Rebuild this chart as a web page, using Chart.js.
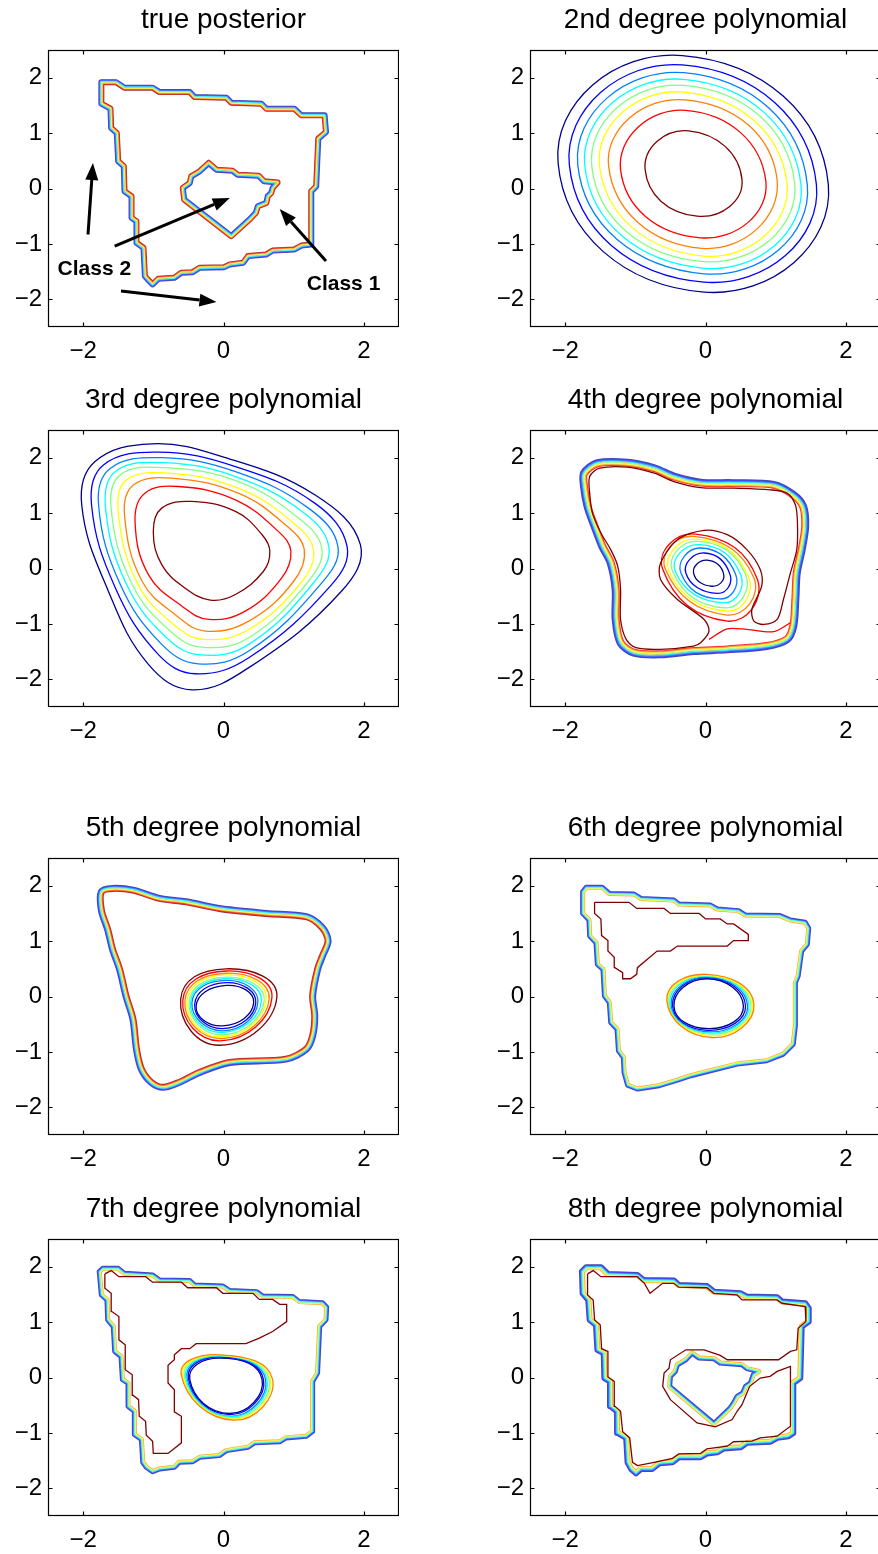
<!DOCTYPE html>
<html>
<head>
<meta charset="utf-8">
<script src="https://cdn.jsdelivr.net/npm/chart.js@4.4.0/dist/chart.umd.min.js"></script>
<style>
html, body { margin: 0; padding: 0; background: #fff; width: 878px; height: 1554px; overflow: hidden; }
canvas { position: absolute; }
</style>
</head>
<body>
<canvas id="p1" width="399" height="367" style="left:0px;top:0px"></canvas>
<canvas id="p2" width="399" height="367" style="left:482px;top:0px"></canvas>
<canvas id="p3" width="399" height="367" style="left:0px;top:380px"></canvas>
<canvas id="p4" width="399" height="367" style="left:482px;top:380px"></canvas>
<canvas id="p5" width="399" height="367" style="left:0px;top:808px"></canvas>
<canvas id="p6" width="399" height="367" style="left:482px;top:808px"></canvas>
<canvas id="p7" width="399" height="367" style="left:0px;top:1189px"></canvas>
<canvas id="p8" width="399" height="367" style="left:482px;top:1189px"></canvas>
<script>
// ---- data (x, y in axis units) ----
var titles = ['true posterior', '2nd degree polynomial', '3rd degree polynomial', '4th degree polynomial',
              '5th degree polynomial', '6th degree polynomial', '7th degree polynomial', '8th degree polynomial'];
var xTicks = [-2, 0, 2];
var yTicks = [-2, -1, 0, 1, 2];
// contour levels, low -> high
var jet = ['#00008f', '#0000ff', '#0080ff', '#00ffff', '#80ff80', '#ffff00', '#ff8000', '#ff0000', '#800000'];
// same levels as they look when packed into a thin bundle
var bandJet = ['#4646b0', '#4848ff', '#40a0ff', '#40ffff', '#a0ffa0', '#ffff40', '#ffa040', '#ff3030', '#a03030'];

// true posterior
var truthOuter = [[-1.74,1.92],[-1.53,1.92],[-1.41,1.82],[-1.01,1.82],[-0.91,1.74],[-0.48,1.74],[-0.41,1.65],[0.04,1.64],[0.11,1.55],[0.54,1.53],[0.61,1.44],[1.01,1.44],[1.11,1.32],[1.44,1.32],[1.46,1.02],[1.35,0.90],[1.32,0.04],[1.25,-0.05],[1.25,-1.01],[1.11,-1.03],[1.01,-1.10],[0.70,-1.12],[0.61,-1.19],[0.35,-1.22],[0.28,-1.34],[0.09,-1.37],[0.01,-1.42],[-0.34,-1.43],[-0.44,-1.51],[-0.60,-1.52],[-0.70,-1.61],[-0.93,-1.63],[-1.01,-1.73],[-1.08,-1.64],[-1.12,-1.58],[-1.14,-1.07],[-1.24,-0.98],[-1.24,-0.59],[-1.31,-0.53],[-1.31,-0.14],[-1.41,-0.05],[-1.42,0.40],[-1.50,0.49],[-1.52,1.00],[-1.60,1.09],[-1.61,1.44],[-1.74,1.53]];
var truthInner = [[-0.21,0.46],[-0.10,0.34],[0.13,0.32],[0.20,0.25],[0.50,0.23],[0.58,0.13],[0.77,0.11],[0.70,0.01],[0.68,-0.08],[0.63,-0.14],[0.61,-0.26],[0.49,-0.32],[0.46,-0.44],[0.37,-0.56],[0.11,-0.86],[-0.56,-0.20],[-0.58,0.01],[-0.48,0.10],[-0.46,0.22],[-0.34,0.31]];
// arrows: tail x, tail y, head x, head y
var truthArrows = [[-1.93,-0.83,-1.86,0.46],[-1.55,-1.04,0.09,-0.17],[-1.46,-1.85,-0.10,-2.05],[1.46,-1.31,0.80,-0.37]];
var truthLabels = [['Class 2',-1.84,-1.46],['Class 1',1.71,-1.73]];

// 2nd degree: left, top, right, bottom of each level
var deg2Rings = [
  [[-2.10,0.46],[-0.33,2.40],[1.75,0.07],[-0.02,-1.87]],
  [[-1.94,0.43],[-0.33,2.23],[1.58,0.07],[-0.02,-1.69]],
  [[-1.82,0.43],[-0.31,2.09],[1.45,0.07],[-0.02,-1.54]],
  [[-1.72,0.41],[-0.31,1.97],[1.36,0.07],[-0.02,-1.44]],
  [[-1.62,0.40],[-0.31,1.86],[1.27,0.10],[-0.03,-1.32]],
  [[-1.51,0.41],[-0.31,1.74],[1.16,0.10],[-0.03,-1.22]],
  [[-1.38,0.40],[-0.30,1.60],[1.02,0.16],[-0.05,-1.08]],
  [[-1.21,0.34],[-0.28,1.41],[0.86,0.13],[-0.07,-0.89]],
  [[-0.86,0.34],[-0.24,1.04],[0.52,0.16],[-0.12,-0.50]]
];

// 3rd degree
var deg3Rings = [
  [[-2.02,1.15],[-1.83,1.93],[-1.02,2.25],[-0.02,2.02],[1.30,1.33],[1.95,0.43],[1.68,-0.41],[0.36,-1.79],[-0.45,-2.19],[-1.07,-1.73],[-1.64,-0.41]],
  [[-1.88,1.15],[-1.71,1.87],[-0.93,2.10],[0.17,1.84],[1.30,1.18],[1.76,0.40],[1.54,-0.29],[0.36,-1.61],[-0.40,-1.90],[-0.93,-1.55],[-1.54,-0.35]],
  [[-1.78,1.15],[-1.61,1.81],[-0.88,2.00],[0.17,1.75],[1.21,1.09],[1.63,0.40],[1.40,-0.26],[0.36,-1.49],[-0.36,-1.72],[-0.88,-1.37],[-1.47,-0.29]],
  [[-1.68,1.09],[-1.54,1.75],[-0.85,1.91],[0.17,1.66],[1.12,1.03],[1.50,0.40],[1.30,-0.23],[0.36,-1.37],[-0.33,-1.56],[-0.81,-1.25],[-1.38,-0.29]],
  [[-1.60,1.06],[-1.47,1.69],[-0.83,1.82],[0.21,1.57],[1.04,0.94],[1.40,0.37],[1.21,-0.23],[0.36,-1.25],[-0.31,-1.42],[-0.76,-1.13],[-1.30,-0.29]],
  [[-1.50,1.03],[-1.38,1.60],[-0.78,1.72],[0.21,1.45],[0.97,0.85],[1.28,0.34],[1.12,-0.23],[0.36,-1.10],[-0.28,-1.28],[-0.71,-1.01],[-1.23,-0.26]],
  [[-1.41,0.97],[-1.28,1.51],[-0.74,1.63],[0.21,1.36],[0.88,0.79],[1.15,0.34],[1.00,-0.23],[0.36,-0.95],[-0.26,-1.13],[-0.66,-0.86],[-1.16,-0.23]],
  [[-1.26,0.85],[-1.12,1.36],[-0.64,1.48],[0.17,1.24],[0.78,0.67],[0.96,0.31],[0.83,-0.17],[0.31,-0.77],[-0.21,-0.92],[-0.59,-0.68],[-1.07,-0.11]],
  [[-1.00,0.67],[-0.88,1.09],[-0.45,1.21],[0.17,1.03],[0.55,0.61],[0.66,0.31],[0.57,-0.05],[0.17,-0.47],[-0.19,-0.57],[-0.55,-0.35],[-0.88,0.07]]
];

// 4th degree
var deg4Outer = [[-1.73,1.72],[-1.54,1.90],[-1.11,1.91],[-0.73,1.81],[-0.45,1.66],[-0.07,1.55],[0.40,1.54],[0.97,1.51],[1.25,1.33],[1.39,1.12],[1.42,0.76],[1.37,0.34],[1.30,-0.08],[1.28,-0.56],[1.25,-1.04],[1.16,-1.28],[0.87,-1.40],[0.31,-1.46],[-0.17,-1.49],[-0.64,-1.55],[-1.02,-1.52],[-1.21,-1.34],[-1.28,-0.92],[-1.28,-0.38],[-1.35,0.10],[-1.47,0.40],[-1.58,0.76],[-1.68,1.12],[-1.73,1.48]];
var deg4Rings = [
  [[-0.17,-0.08],[0.02,0.15],[0.26,-0.11],[0.09,-0.32]],
  [[-0.28,-0.08],[-0.02,0.28],[0.35,-0.11],[0.17,-0.45]],
  [[-0.35,-0.08],[-0.07,0.37],[0.43,-0.11],[0.21,-0.55]],
  [[-0.43,-0.05],[-0.09,0.43],[0.50,-0.11],[0.26,-0.62]],
  [[-0.47,-0.05],[-0.12,0.49],[0.57,-0.11],[0.28,-0.71]],
  [[-0.52,-0.05],[-0.14,0.53],[0.61,-0.14],[0.31,-0.77]],
  [[-0.57,-0.02],[-0.17,0.58],[0.69,-0.17],[0.31,-0.84]],
  [[-0.61,-0.01],[-0.14,0.62],[0.74,-0.20],[0.31,-0.95]]
];
var deg4DarkRed = [[-0.07,-1.34],[0.05,-1.13],[-0.02,-0.92],[-0.40,-0.56],[-0.64,-0.20],[-0.64,0.10],[-0.40,0.52],[-0.02,0.69],[0.31,0.61],[0.59,0.34],[0.78,-0.02],[0.80,-0.32],[0.66,-0.74],[0.69,-0.95],[0.83,-1.01],[1.02,-0.92],[1.11,-0.56],[1.21,-0.08],[1.30,0.34],[1.31,0.82],[1.28,1.15],[1.16,1.36],[0.92,1.42],[0.40,1.45],[-0.07,1.46],[-0.45,1.57],[-0.73,1.72],[-1.11,1.83],[-1.51,1.81],[-1.65,1.66],[-1.65,1.36],[-1.61,1.00],[-1.49,0.64],[-1.35,0.34],[-1.25,0.04],[-1.21,-0.38],[-1.21,-0.92],[-1.13,-1.28],[-0.99,-1.43],[-0.64,-1.46],[-0.17,-1.40]];
var deg4RedLine = [[0.05,-1.28],[0.31,-1.09],[0.59,-1.10],[0.97,-1.14],[1.21,-0.98]];

// 5th degree
var deg5Outer = [[-1.74,1.89],[-1.58,1.95],[-1.29,1.92],[-0.91,1.77],[-0.53,1.71],[-0.06,1.59],[0.61,1.50],[1.18,1.44],[1.41,1.24],[1.49,1.00],[1.41,0.73],[1.34,0.49],[1.27,0.01],[1.30,-0.35],[1.27,-0.71],[1.18,-0.95],[0.89,-1.13],[0.09,-1.19],[-0.34,-1.37],[-0.63,-1.55],[-0.86,-1.64],[-1.03,-1.55],[-1.17,-1.31],[-1.24,-0.95],[-1.29,-0.41],[-1.39,0.01],[-1.48,0.49],[-1.58,0.85],[-1.65,1.21],[-1.74,1.56]];
var deg5Rings = [
  [[-0.39,-0.17],[0.04,0.20],[0.43,-0.11],[-0.01,-0.53]],
  [[-0.41,-0.14],[0.04,0.25],[0.46,-0.11],[-0.01,-0.58]],
  [[-0.45,-0.11],[0.04,0.29],[0.49,-0.10],[-0.01,-0.62]],
  [[-0.47,-0.11],[0.04,0.32],[0.54,-0.08],[-0.02,-0.65]],
  [[-0.49,-0.10],[0.04,0.35],[0.58,-0.07],[-0.02,-0.69]],
  [[-0.52,-0.09],[0.04,0.39],[0.61,-0.05],[-0.03,-0.73]],
  [[-0.55,-0.08],[0.04,0.42],[0.65,-0.04],[-0.03,-0.76]],
  [[-0.58,-0.07],[0.04,0.46],[0.69,-0.02],[-0.04,-0.80]],
  [[-0.61,-0.05],[0.04,0.50],[0.76,-0.01],[-0.05,-0.88]]
];

// 6th degree
var deg6Outer = [[-1.75,1.89],[-1.70,1.97],[-1.47,1.97],[-1.37,1.86],[-1.02,1.85],[-0.92,1.77],[-0.45,1.74],[-0.38,1.67],[0.07,1.65],[0.17,1.58],[0.47,1.55],[0.57,1.47],[1.06,1.46],[1.21,1.38],[1.42,1.34],[1.47,1.23],[1.45,0.94],[1.37,0.82],[1.32,0.37],[1.28,0.25],[1.28,-0.53],[1.25,-0.86],[1.11,-1.04],[0.87,-1.16],[0.45,-1.22],[0.07,-1.34],[-0.21,-1.43],[-0.40,-1.51],[-0.66,-1.61],[-0.97,-1.67],[-1.11,-1.60],[-1.16,-1.37],[-1.17,-1.10],[-1.24,-0.98],[-1.26,-0.59],[-1.35,-0.47],[-1.37,-0.11],[-1.44,0.01],[-1.46,0.49],[-1.54,0.58],[-1.56,0.97],[-1.65,1.09],[-1.66,1.38],[-1.75,1.50]];
var deg6DarkRed = [[-1.58,1.70],[-1.09,1.70],[-0.98,1.59],[-0.59,1.59],[-0.50,1.50],[-0.09,1.50],[0.00,1.40],[0.21,1.40],[0.31,1.31],[0.40,1.31],[0.61,1.12],[0.61,1.01],[0.40,1.01],[0.31,0.91],[-0.40,0.91],[-0.50,0.82],[-0.69,0.82],[-0.97,0.52],[-0.98,0.40],[-1.07,0.32],[-1.18,0.32],[-1.18,0.43],[-1.29,0.52],[-1.30,0.71],[-1.39,0.82],[-1.39,1.01],[-1.48,1.10],[-1.49,1.40],[-1.58,1.50]];
var deg6Rings = [
  [[-0.45,-0.17],[0.02,0.32],[0.54,-0.17],[0.05,-0.58]],
  [[-0.47,-0.16],[0.02,0.34],[0.57,-0.17],[0.05,-0.61]],
  [[-0.49,-0.15],[0.02,0.35],[0.60,-0.17],[0.06,-0.64]],
  [[-0.51,-0.13],[0.02,0.37],[0.62,-0.16],[0.07,-0.66]],
  [[-0.53,-0.11],[0.02,0.38],[0.65,-0.16],[0.08,-0.68]],
  [[-0.54,-0.10],[0.02,0.38],[0.67,-0.15],[0.09,-0.71]],
  [[-0.55,-0.07],[0.02,0.40],[0.69,-0.14],[0.09,-0.74]]
];

// 7th degree
var deg7Outer = [[-1.77,1.91],[-1.72,1.97],[-1.50,1.97],[-1.41,1.88],[-1.01,1.85],[-0.91,1.76],[-0.48,1.75],[-0.41,1.67],[-0.01,1.65],[0.09,1.57],[0.47,1.55],[0.56,1.47],[0.99,1.46],[1.08,1.37],[1.41,1.35],[1.47,1.27],[1.46,1.04],[1.37,0.92],[1.34,0.08],[1.27,-0.07],[1.27,-0.97],[1.18,-1.06],[0.89,-1.09],[0.80,-1.16],[0.44,-1.18],[0.35,-1.26],[0.04,-1.32],[-0.06,-1.41],[-0.34,-1.44],[-0.44,-1.52],[-0.63,-1.53],[-0.70,-1.62],[-0.91,-1.65],[-1.01,-1.70],[-1.10,-1.62],[-1.15,-1.53],[-1.17,-1.12],[-1.27,-1.03],[-1.27,-0.61],[-1.36,-0.52],[-1.36,-0.10],[-1.44,-0.04],[-1.46,0.38],[-1.55,0.47],[-1.57,0.92],[-1.65,1.04],[-1.66,1.40],[-1.74,1.49]];
var deg7DarkRed = [[-1.69,1.87],[-1.60,1.93],[-1.49,1.82],[-1.11,1.82],[-1.01,1.72],[-0.60,1.72],[-0.51,1.62],[-0.10,1.62],[-0.01,1.52],[0.42,1.52],[0.51,1.41],[0.70,1.41],[0.80,1.32],[0.90,1.32],[0.90,1.01],[0.70,0.83],[0.51,0.71],[0.32,0.61],[-0.39,0.61],[-0.48,0.52],[-0.60,0.52],[-0.70,0.41],[-0.70,0.32],[-0.79,0.22],[-0.79,-0.10],[-0.70,-0.22],[-0.70,-0.62],[-0.60,-0.70],[-0.60,-1.18],[-0.79,-1.37],[-1.00,-1.37],[-1.01,-1.15],[-1.10,-1.04],[-1.11,-0.79],[-1.20,-0.70],[-1.21,-0.40],[-1.29,-0.32],[-1.30,0.05],[-1.40,0.14],[-1.40,0.59],[-1.49,0.68],[-1.49,1.10],[-1.59,1.19],[-1.60,1.52],[-1.69,1.61]];
var deg7Rings = [
  [[-0.48,-0.04],[-0.06,0.35],[0.55,-0.04],[0.09,-0.65]],
  [[-0.50,-0.02],[-0.06,0.37],[0.57,-0.04],[0.09,-0.67]],
  [[-0.52,-0.01],[-0.06,0.38],[0.60,-0.04],[0.10,-0.70]],
  [[-0.54,0.00],[-0.06,0.39],[0.62,-0.04],[0.11,-0.71]],
  [[-0.56,0.01],[-0.06,0.40],[0.65,-0.04],[0.12,-0.73]],
  [[-0.58,0.02],[-0.06,0.40],[0.67,-0.04],[0.13,-0.75]],
  [[-0.60,0.04],[-0.06,0.41],[0.70,-0.04],[0.14,-0.77]]
];

// 8th degree
var deg8Outer = [[-1.76,1.91],[-1.70,1.99],[-1.49,1.99],[-1.39,1.87],[-0.97,1.85],[-0.88,1.76],[-0.45,1.75],[-0.38,1.67],[0.02,1.65],[0.12,1.55],[0.50,1.52],[0.59,1.46],[1.02,1.45],[1.09,1.37],[1.42,1.34],[1.47,1.25],[1.47,1.01],[1.37,0.92],[1.35,-0.01],[1.25,-0.10],[1.25,-1.00],[1.18,-1.06],[1.02,-1.09],[0.92,-1.16],[0.59,-1.18],[0.50,-1.26],[0.26,-1.28],[0.17,-1.35],[0.02,-1.37],[-0.07,-1.44],[-0.38,-1.44],[-0.47,-1.53],[-0.66,-1.55],[-0.76,-1.65],[-0.92,-1.65],[-0.99,-1.73],[-1.06,-1.65],[-1.11,-1.53],[-1.13,-1.09],[-1.25,-1.00],[-1.26,-0.61],[-1.35,-0.52],[-1.36,-0.07],[-1.44,-0.01],[-1.45,0.44],[-1.54,0.50],[-1.56,0.95],[-1.65,1.04],[-1.67,1.40],[-1.75,1.52]];
var deg8Inner = [[-0.19,0.44],[-0.09,0.35],[0.12,0.34],[0.21,0.26],[0.52,0.23],[0.59,0.16],[0.76,0.11],[0.68,0.05],[0.64,-0.10],[0.57,-0.16],[0.53,-0.28],[0.45,-0.34],[0.40,-0.46],[0.35,-0.55],[0.12,-0.83],[-0.51,-0.16],[-0.50,0.02],[-0.43,0.11],[-0.40,0.23],[-0.28,0.32]];
var deg8DarkRed = [[-1.68,1.87],[-1.60,1.93],[-1.49,1.82],[-0.97,1.82],[-0.87,1.70],[-0.79,1.52],[-0.61,1.70],[-0.45,1.70],[-0.38,1.63],[0.02,1.62],[0.12,1.52],[0.45,1.49],[0.52,1.40],[1.02,1.40],[1.09,1.34],[1.42,1.28],[1.43,1.01],[1.32,0.89],[1.30,0.50],[1.21,0.47],[1.04,0.32],[0.31,0.32],[0.21,0.40],[-0.02,0.50],[-0.28,0.50],[-0.50,0.32],[-0.52,0.17],[-0.59,0.08],[-0.61,-0.16],[-0.50,-0.40],[-0.12,-0.82],[0.14,-0.89],[0.38,-0.76],[0.45,-0.61],[0.52,-0.49],[0.57,-0.34],[0.63,-0.16],[0.78,-0.01],[0.92,0.02],[1.02,0.11],[1.21,0.20],[1.21,-0.88],[1.02,-1.06],[0.78,-1.09],[0.66,-1.15],[0.40,-1.16],[0.31,-1.24],[0.02,-1.29],[-0.07,-1.37],[-0.38,-1.38],[-0.47,-1.46],[-0.73,-1.53],[-0.97,-1.59],[-1.04,-1.53],[-1.08,-1.09],[-1.18,-0.98],[-1.21,-0.61],[-1.29,-0.52],[-1.30,-0.07],[-1.39,0.01],[-1.39,0.47],[-1.48,0.52],[-1.50,0.95],[-1.58,1.04],[-1.60,1.40],[-1.68,1.49]];

// ---- helpers ----
Chart.defaults.font.family = '"Liberation Sans", Arial, Helvetica, sans-serif';
Chart.defaults.color = '#000';

function pts(a) {
  return a.map(function (p) { return {x: p[0], y: p[1]}; });
}

// closed curve: repeat neighbours at both ends so the spline closes smoothly
function loop(a) {
  var n = a.length;
  return pts([a[n - 1]].concat(a, [a[0], a[1]]));
}

// the two extra segments of a loop are not drawn
function hideEnds(c) {
  var n = c.chart.data.datasets[c.datasetIndex].data.length;
  if (c.p0DataIndex === 0 || c.p1DataIndex === n - 1) return 'rgba(0,0,0,0)';
  return undefined;
}

function curve(a, color, width, tension, closed) {
  var d = {
    data: closed ? loop(a) : pts(a),
    borderColor: color,
    borderWidth: width,
    tension: tension
  };
  if (closed) d.segment = {borderColor: hideEnds};
  return d;
}

// a bundle of tightly packed levels along one boundary
// lowSide: which side of the boundary holds the low levels ('out' or 'in')
function band(a, colors, lowSide, width, tension) {
  var n = colors.length, w = width / n;
  var highSide = lowSide === 'out' ? 'in' : 'out';
  var low = [], high = [], mid = [];
  for (var i = 0; i < n; i++) {
    var s0 = -width / 2 + i * w, s1 = s0 + w;
    var d;
    if (s1 <= 0.001) {
      d = curve(a, colors[i], -2 * s0, tension, true);
      d.clipSide = lowSide;
      low.push(d);
    } else if (s0 >= -0.001) {
      d = curve(a, colors[i], 2 * s1, tension, true);
      d.clipSide = highSide;
      high.unshift(d);
    } else {
      d = curve(a, colors[i], w, tension, true);
      mid.push(d);
    }
    d.borderJoinStyle = 'round';
    d.borderCapStyle = 'round';
  }
  return low.concat(high, mid);
}

function rings(list, colors, tension) {
  return list.map(function (r, i) { return curve(r, colors[i], 1.3, tension, true); });
}

function fmt(v) {
  return v < 0 ? '\u2212' + (-v) : String(v);
}

function axis(ticks, which) {
  return {
    type: 'linear',
    min: -2.5,
    max: 2.5,
    grid: {display: false, drawTicks: false},
    border: {display: false},
    ticks: {font: {size: 24}, color: '#000', padding: which === 'x' ? 10 : 6, callback: fmt, autoSkip: false, maxRotation: 0},
    afterBuildTicks: function (s) { s.ticks = ticks.map(function (v) { return {value: v}; }); },
    afterFit: function (s) { if (which === 'x') s.height = 40; else s.width = 48; }
  };
}

// clip a band stroke to one side of its own boundary
var bandClip = {
  id: 'bandClip',
  beforeDatasetDraw: function (chart, args) {
    var ds = chart.data.datasets[args.index];
    if (!ds.clipSide) return;
    var ctx = chart.ctx, a = chart.chartArea, el = args.meta.data;
    if (ds.tension) args.meta.dataset.updateControlPoints(a, 'x');
    ctx.save();
    ctx.beginPath();
    if (ds.clipSide === 'out') ctx.rect(a.left - 20, a.top - 20, a.right - a.left + 40, a.bottom - a.top + 40);
    ctx.moveTo(el[1].x, el[1].y);
    for (var i = 2; i < el.length - 1; i++) {
      var p = el[i - 1], q = el[i];
      if (ds.tension) ctx.bezierCurveTo(p.cp2x, p.cp2y, q.cp1x, q.cp1y, q.x, q.y);
      else ctx.lineTo(q.x, q.y);
    }
    ctx.closePath();
    ctx.clip('evenodd');
  },
  afterDatasetDraw: function (chart, args) {
    if (chart.data.datasets[args.index].clipSide) chart.ctx.restore();
  }
};

// box with inward ticks on all four sides
var frame = {
  id: 'frame',
  afterDatasetsDraw: function (chart) {
    var ctx = chart.ctx, a = chart.chartArea, sx = chart.scales.x, sy = chart.scales.y;
    var l = Math.round(a.left) + 0.5, r = Math.round(a.right) - 0.5;
    var t = Math.round(a.top) + 0.5, b = Math.round(a.bottom) - 0.5;
    ctx.save();
    ctx.strokeStyle = '#000';
    ctx.lineWidth = 1.2;
    ctx.strokeRect(l, t, r - l, b - t);
    ctx.beginPath();
    xTicks.forEach(function (v) {
      var x = Math.round(sx.getPixelForValue(v)) + 0.5;
      ctx.moveTo(x, b); ctx.lineTo(x, b - 4);
      ctx.moveTo(x, t); ctx.lineTo(x, t + 4);
    });
    yTicks.forEach(function (v) {
      var y = Math.round(sy.getPixelForValue(v)) + 0.5;
      ctx.moveTo(l, y); ctx.lineTo(l + 4, y);
      ctx.moveTo(r, y); ctx.lineTo(r - 4, y);
    });
    ctx.stroke();
    ctx.restore();
  }
};

// arrows and class names of the first panel
var notes = {
  id: 'notes',
  afterDatasetsDraw: function (chart) {
    var ctx = chart.ctx, sx = chart.scales.x, sy = chart.scales.y;
    ctx.save();
    ctx.strokeStyle = '#000';
    ctx.fillStyle = '#000';
    ctx.lineWidth = 3;
    truthArrows.forEach(function (r) {
      var x0 = sx.getPixelForValue(r[0]), y0 = sy.getPixelForValue(r[1]);
      var x1 = sx.getPixelForValue(r[2]), y1 = sy.getPixelForValue(r[3]);
      var ang = Math.atan2(y1 - y0, x1 - x0), len = 17, half = 6.5;
      var bx = x1 - len * Math.cos(ang), by = y1 - len * Math.sin(ang);
      ctx.beginPath();
      ctx.moveTo(x0, y0);
      ctx.lineTo(bx, by);
      ctx.stroke();
      ctx.beginPath();
      ctx.moveTo(x1, y1);
      ctx.lineTo(bx + half * Math.sin(ang), by - half * Math.cos(ang));
      ctx.lineTo(bx - half * Math.sin(ang), by + half * Math.cos(ang));
      ctx.closePath();
      ctx.fill();
    });
    ctx.font = 'bold 21px "Liberation Sans", Arial, sans-serif';
    ctx.textAlign = 'center';
    ctx.textBaseline = 'middle';
    truthLabels.forEach(function (t) {
      ctx.fillText(t[0], sx.getPixelForValue(t[1]), sy.getPixelForValue(t[2]));
    });
    ctx.restore();
  }
};

function makeChart(id, title, datasets, extra) {
  datasets.forEach(function (d, i) {
    d.order = -i;          // later datasets on top
    d.showLine = true;
    d.fill = false;
    d.pointRadius = 0;
    d.pointHitRadius = 0;
  });
  var plugins = [bandClip, frame];
  if (extra) plugins.push(extra);
  return new Chart(document.getElementById(id), {
    type: 'scatter',
    data: {datasets: datasets},
    options: {
      responsive: false,
      animation: false,
      events: [],
      layout: {padding: 0},
      plugins: {
        legend: {display: false},
        tooltip: {enabled: false},
        title: {
          display: true, text: title, color: '#000', fullSize: false,
          font: {size: 28, weight: 'normal'},
          padding: {top: 3, bottom: 13.4}
        }
      },
      scales: {x: axis(xTicks, 'x'), y: axis(yTicks, 'y')}
    },
    plugins: plugins
  });
}

var jet7 = jet.slice(0, 7);
var band7 = bandJet.slice(0, 7);
var darkRed = jet[8];

makeChart('p1', titles[0], band(truthOuter, bandJet, 'out', 6, 0).concat(band(truthInner, bandJet, 'in', 6, 0)), notes);
makeChart('p2', titles[1], rings(deg2Rings, jet, 0.55));
makeChart('p3', titles[2], rings(deg3Rings, jet, 0.4));
makeChart('p4', titles[3], band(deg4Outer, bandJet.slice(0, 8), 'out', 8, 0.3).concat(
  rings(deg4Rings, jet, 0.55),
  [curve(deg4DarkRed, darkRed, 1.3, 0.3, true), curve(deg4RedLine, jet[7], 1.3, 0.3, false)]));
makeChart('p5', titles[4], band(deg5Outer, bandJet, 'out', 7, 0.3).concat(rings(deg5Rings, jet, 0.55)));
makeChart('p6', titles[5], band(deg6Outer, band7, 'out', 5, 0).concat(
  [curve(deg6DarkRed, darkRed, 1.3, 0, true)], rings(deg6Rings, jet7, 0.55)));
makeChart('p7', titles[6], band(deg7Outer, band7, 'out', 5, 0).concat(
  [curve(deg7DarkRed, darkRed, 1.3, 0, true)], rings(deg7Rings, jet7, 0.55)));
makeChart('p8', titles[7], band(deg8Outer, band7, 'out', 6, 0).concat(
  band(deg8Inner, band7, 'in', 5, 0), [curve(deg8DarkRed, darkRed, 1.3, 0, true)]));
</script>
</body>
</html>
